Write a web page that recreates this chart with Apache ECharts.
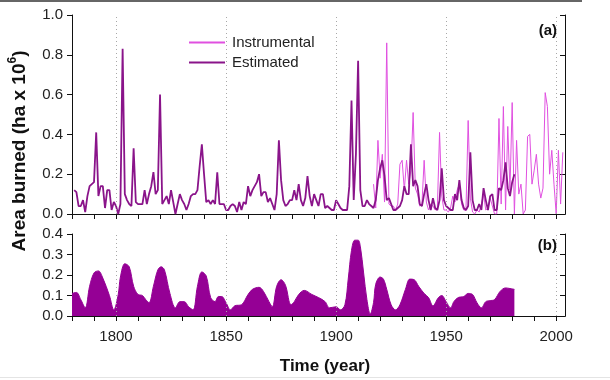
<!DOCTYPE html>
<html><head><meta charset="utf-8">
<script src="https://cdn.jsdelivr.net/npm/echarts@6/dist/echarts.min.js"></script>
<style>html,body{margin:0;padding:0;background:#fff}#c{width:610px;height:380px}</style>
</head><body><div id="c"></div>
<script>
// ---- Panel (a): annual area burned (ha x 10^6) ----
var estStartYear = 1781;
var estimated = [
 0.12,0.11,0.04,0.04,0.07,0.01,0.09,0.14,0.15,0.16,
 0.41,0.09,0.14,0.14,0.03,0.12,0.12,0.02,0.06,0.04,
 0.00,0.05,0.83,0.10,0.07,0.05,0.04,0.33,0.06,0.05,
 0.05,0.05,0.12,0.05,0.10,0.14,0.21,0.10,0.12,0.60,
 0.05,0.07,0.09,0.05,0.12,0.06,0.00,0.05,0.10,0.07,
 0.05,0.02,0.05,0.09,0.10,0.10,0.12,0.24,0.35,0.20,
 0.06,0.07,0.05,0.07,0.05,0.21,0.05,0.05,0.05,0.02,
 0.02,0.04,0.05,0.04,0.01,0.06,0.02,0.06,0.05,0.14,
 0.09,0.12,0.14,0.16,0.20,0.09,0.11,0.11,0.06,0.08,
 0.05,0.02,0.10,0.37,0.17,0.07,0.04,0.05,0.07,0.07,
 0.12,0.07,0.15,0.07,0.04,0.08,0.19,0.09,0.04,0.10,
 0.07,0.04,0.10,0.10,0.03,0.04,0.03,0.02,0.02,0.07,
 0.05,0.03,0.02,0.02,0.02,0.14,0.57,0.07,0.30,0.77,
 0.12,0.04,0.04,0.07,0.05,0.04,0.03,0.07,0.17,0.23,
 0.27,0.19,0.07,0.08,0.05,0.02,0.02,0.03,0.04,0.07,
 0.14,0.10,0.10,0.35,0.14,0.17,0.14,0.05,0.04,0.10,
 0.15,0.07,0.02,0.08,0.03,0.02,0.07,0.23,0.07,0.04,
 0.03,0.02,0.02,0.10,0.07,0.17,0.07,0.03,0.02,0.04,
 0.31,0.07,0.02,0.02,0.05,0.02,0.13,0.07,0.02,0.09,
 0.10,0.02,0.02,0.13,0.12,0.17,0.26,0.13,0.09,0.16,
 0.20
];
var instStartYear = 1917;
var instrumental = [
 0.15,0.03,0.37,0.18,0.30,0.06,0.86,0.05,0.04,0.04,
 0.02,0.05,0.25,0.27,0.12,0.27,0.15,0.22,0.51,0.13,
 0.10,0.04,0.05,0.27,0.06,0.02,0.05,0.04,0.02,0.03,
 0.41,0.09,0.02,0.02,0.01,0.03,0.09,0.06,0.12,0.15,
 0.05,0.02,0.02,0.47,0.08,0.01,0.00,0.02,0.01,0.05,
 0.10,0.02,0.03,0.08,0.04,0.00,0.00,0.48,0.05,0.54,
 0.02,0.44,0.12,0.56,0.00,0.37,0.10,0.15,0.00,0.02,
 0.39,0.40,0.15,0.22,0.30,0.15,0.08,0.13,0.61,0.54,
 0.20,0.32,0.15,0.00,0.32,0.05,0.31
];
// ---- Panel (b): smoothed series ----
var smoothYears = [1780,1782,1784,1786,1788,1790,1792,1794,1797,1799,
 1801,1802,1804,1806,1808,1810,1812,1813.5,1815,1817,1819,1820.5,1822,1824.5,1827,
 1829,1831,1833,1835,1837,1839,1841,1843,1845,1846.5,1848,1850,1852,1854,1857,
 1860,1862,1865,1867,1869.5,1871,1873,1875,1877,1879.5,1881,1883,1885.5,1889,1892,
 1895,1897,1900,1902,1904,1905.5,1907,1908.5,1910,1911,1912.5,1914,1915.5,1917,1918,
 1920,1921.5,1923,1925,1927,1929,1931.5,1933.5,1935.5,1937.5,1940,1942,1944,1946.5,1948,
 1950,1952,1953.5,1955.5,1958,1960,1962,1964,1966,1968,1970,1972,1974.5,1977,1979,1981];
var smoothValues = [0.11,0.115,0.08,0.04,0.145,0.21,0.22,0.185,0.10,0.03,
 0.105,0.19,0.255,0.24,0.145,0.105,0.10,0.08,0.065,0.145,0.225,0.24,0.225,0.11,0.04,
 0.07,0.07,0.045,0.03,0.145,0.215,0.195,0.09,0.07,0.095,0.095,0.065,0.03,0.05,0.055,
 0.105,0.13,0.14,0.12,0.07,0.045,0.145,0.177,0.15,0.055,0.07,0.105,0.125,0.105,0.09,
 0.07,0.04,0.045,0.03,0.055,0.18,0.32,0.37,0.37,0.34,0.21,0.08,0.01,0.065,0.155,
 0.19,0.18,0.13,0.055,0.03,0.055,0.13,0.18,0.177,0.145,0.11,0.09,0.05,0.09,0.10,
 0.07,0.04,0.07,0.09,0.095,0.11,0.105,0.065,0.04,0.07,0.075,0.08,0.12,0.137,0.134,0.13];
// ---- Axis ticks / labels ----
var tickYears = [1780,1790,1800,1810,1820,1830,1840,1850,1860,1870,1880,1890,1900,1910,1920,1930,1940,1950,1960,1970,1980,1990,2000];
var labelYears = [1800,1850,1900,1950,2000];
var gridYears = [1800,1850,1900,1950,2000];

function pairs(start, arr){ return arr.map(function(v,i){ return [start+i, v]; }); }
var estData = pairs(estStartYear, estimated);
var instData = pairs(instStartYear, instrumental);
var smoothData = smoothYears.map(function(y,i){ return [y, smoothValues[i]]; });

var FONT = 'Liberation Sans, Arial, sans-serif';
var axisLine = {show:true, lineStyle:{color:'#111', width:1}};
function xAx(grid, pos, inside, labels){
  return {type:'value', gridIndex:grid, position:pos, min:1780, max:2004, interval:10,
    axisLine:axisLine, splitLine:{show:false},
    axisTick:{show:true, inside:inside, length:5, lineStyle:{color:'#111'}, customValues:tickYears},
    axisLabel:{show:labels, fontSize:15, fontFamily:FONT, color:'#222', margin:13, customValues:labelYears,
      formatter:function(v){ return labelYears.indexOf(v)>=0 ? String(v) : ''; }}};
}
function yAx(grid, pos, inside, labels, max, step){
  return {type:'value', gridIndex:grid, position:pos, min:0, max:max, interval:step,
    axisLine:axisLine, splitLine:{show:false},
    axisTick:{show:true, inside:inside, length:5, lineStyle:{color:'#111'}},
    axisLabel:{show:labels, fontSize:15, fontFamily:FONT, color:'#222', margin:9,
      formatter:function(v){ return v.toFixed(1); }}};
}
function gridMarks(xi, yi){
  return {type:'line', xAxisIndex:xi, yAxisIndex:yi, data:[], z:1, silent:true,
    markLine:{silent:true, symbol:['none','none'], label:{show:false},
      lineStyle:{type:[1,3], color:'#a8a8a8', width:1},
      data:gridYears.map(function(y){ return {xAxis:y}; })}};
}

var chart = echarts.init(document.getElementById('c'), null, {renderer:'canvas'});
chart.setOption({
  animation:false,
  backgroundColor:'#fff',
  grid:[{left:72, top:15, width:493, height:199},
        {left:72, top:234, width:493, height:82}],
  xAxis:[xAx(0,'bottom',false,false), xAx(0,'top',true,false),
         xAx(1,'bottom',false,true), xAx(1,'top',true,false)],
  yAxis:[yAx(0,'left',false,true,1.0,0.2), yAx(0,'right',true,false,1.0,0.2),
         yAx(1,'left',false,true,0.4,0.1), yAx(1,'right',true,false,0.4,0.1)],
  legend:{data:['Instrumental','Estimated'], orient:'vertical', left:183, top:30,
    itemWidth:36, itemHeight:14, itemGap:5,
    itemStyle:{color:'rgba(0,0,0,0)', borderColor:'rgba(0,0,0,0)', borderWidth:0, opacity:0},
    textStyle:{fontSize:15, fontFamily:FONT, color:'#222', padding:[0,0,0,2]}},
  series:[
    gridMarks(0,0),
    {name:'Instrumental', type:'line', xAxisIndex:0, yAxisIndex:0, data:instData, z:3,
      symbol:'none', lineStyle:{color:'#e050e0', width:1}, itemStyle:{color:'#e050e0'}},
    {name:'Estimated', type:'line', xAxisIndex:0, yAxisIndex:0, data:estData, z:4,
      symbol:'none', lineStyle:{color:'#8a148a', width:1.8}, itemStyle:{color:'#8a148a'}},
    gridMarks(2,2),
    {name:'Smoothed', type:'line', xAxisIndex:2, yAxisIndex:2, data:smoothData, z:3,
      smooth:0.35, symbol:'none', lineStyle:{color:'#950095', width:1},
      areaStyle:{color:'#950095', opacity:1}}
  ],
  graphic:[
    {type:'rect', shape:{x:0, y:0, width:582, height:2}, style:{fill:'#666'}},
    {type:'rect', shape:{x:0, y:377, width:610, height:1}, style:{fill:'#e4e4e4'}},
    {type:'text', x:557, y:31, style:{text:'(a)', font:'bold 15px '+FONT, fill:'#111', textAlign:'right', textVerticalAlign:'middle'}},
    {type:'text', x:557, y:246, style:{text:'(b)', font:'bold 15px '+FONT, fill:'#111', textAlign:'right', textVerticalAlign:'middle'}},
    {type:'text', x:325, y:366, style:{text:'Time (year)', font:'bold 17px '+FONT, fill:'#111', textAlign:'center', textVerticalAlign:'middle'}},
    {type:'text', x:18, y:151, rotation:Math.PI/2,
      style:{text:'{t|Area burned (ha x 10}{s|6}{t|)}', textAlign:'center', textVerticalAlign:'middle', fill:'#111',
        rich:{t:{font:'bold 19px '+FONT, fill:'#111', lineHeight:22, verticalAlign:'bottom'},
              s:{font:'bold 12px '+FONT, fill:'#111', lineHeight:22, verticalAlign:'top', padding:[0,0,9,0]}}}}
  ]
});
</script></body></html>
